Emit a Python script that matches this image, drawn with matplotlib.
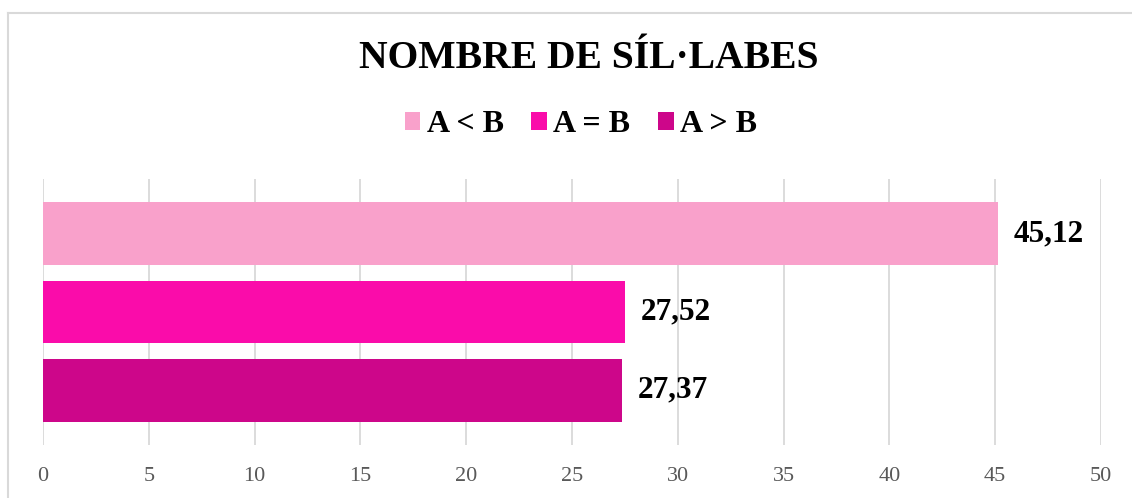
import matplotlib
matplotlib.use("Agg")
import matplotlib.pyplot as plt
from matplotlib.lines import Line2D
from matplotlib.patches import Patch

# data
categories = ["A < B", "A = B", "A > B"]
values = [45.12, 27.52, 27.37]
labels = ["45,12", "27,52", "27,37"]
colors = ["#F9A1CB", "#FA0CAA", "#CD068A"]
ticks = [0, 5, 10, 15, 20, 25, 30, 35, 40, 45, 50]

plt.rcParams["font.family"] = ["Liberation Serif", "DejaVu Serif"]

fig = plt.figure(figsize=(11.32, 4.98), dpi=100)
ax = fig.add_axes([43 / 1132, 53 / 498, 1058 / 1132, 266 / 498])

pos = list(range(len(categories)))
ax.barh(pos, values, height=0.8, color=colors, zorder=3)
for p, v, lab in zip(pos, values, labels):
    ax.text(v + 0.75, p, lab, va="center", ha="left", fontsize=22.5,
            fontweight="bold", color="black")

ax.set_xlim(0, 50)
ax.set_ylim(2.7, -0.7)
ax.set_xticks(ticks)
ax.set_xticklabels([str(t) for t in ticks], fontsize=16, color="#595959")
ax.set_yticks([])
ax.tick_params(axis="x", length=0, pad=16)
ax.grid(axis="x", color="#D9D9D9", linewidth=1.3, zorder=0)
for s in ax.spines.values():
    s.set_visible(False)

fig.text(0.52, 1 - 59 / 498, "NOMBRE DE SÍL·LABES", ha="center", va="center",
         fontsize=28.5, fontweight="bold")

handles = [Patch(facecolor=c, edgecolor="none") for c in colors]
leg = fig.legend(handles, categories, loc="center", bbox_to_anchor=(0.513, 1 - 125 / 498),
                 ncol=3, frameon=False, prop={"size": 23, "weight": "bold"},
                 handlelength=0.5, handleheight=0.5, handletextpad=0.2,
                 columnspacing=0.85, borderpad=0)

# chart border (only top and left visible in the crop)
fig.add_artist(Line2D([8 / 1132, 8 / 1132], [0, 1 - 13 / 498], color="#D9D9D9", lw=1.5))
fig.add_artist(Line2D([8 / 1132, 1], [1 - 13 / 498, 1 - 13 / 498], color="#D9D9D9", lw=1.5))

fig.savefig("out.png", dpi=100)
